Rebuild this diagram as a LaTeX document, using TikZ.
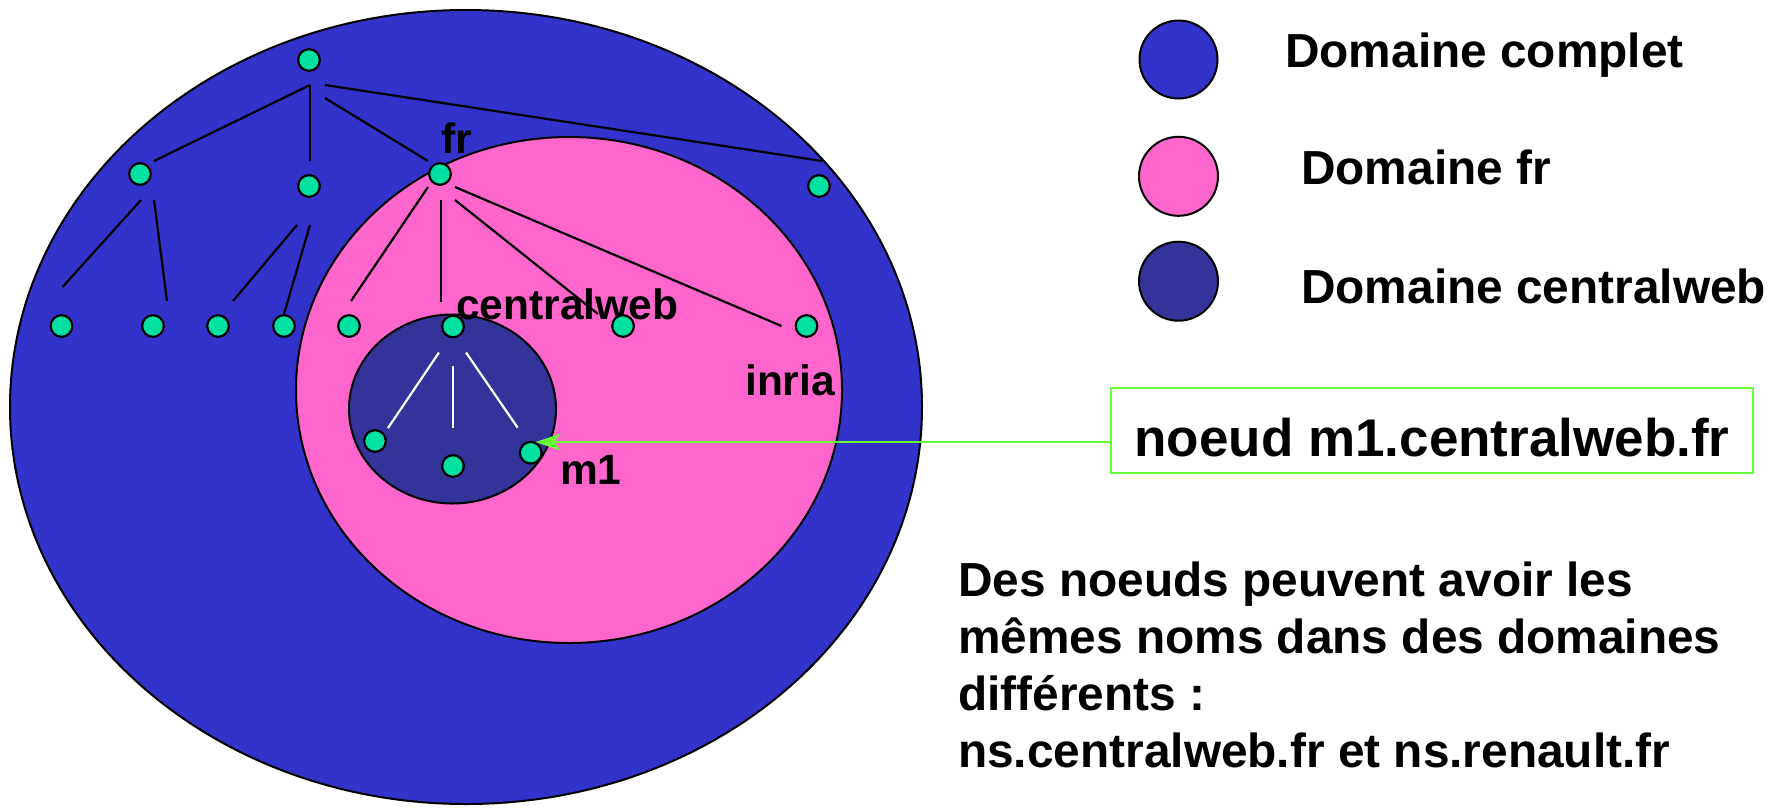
\documentclass[tikz,border=0pt]{standalone}
\usepackage{fontspec}
\setmainfont{Liberation Sans}
\usetikzlibrary{calc,arrows.meta}
\definecolor{fullblue}{HTML}{3333CC}
\definecolor{frpink}{HTML}{FF66CC}
\definecolor{cwblue}{HTML}{333399}
\definecolor{hostgreen}{HTML}{00E0A0}
\definecolor{callgreen}{HTML}{66FF33}
\begin{document}
\begin{tikzpicture}[x=1pt,y=-1pt,
  host/.style={circle,draw=black,line width=2pt,fill=hostgreen,minimum size=21.5pt,inner sep=0pt},
  zone/.style={draw=black,line width=2pt},
  edge/.style={line width=2.2pt,draw=black},
  inedge/.style={line width=2.2pt,draw=white},
  lbl/.style={font=\fontsize{42.5}{50}\selectfont\bfseries,inner sep=0pt,anchor=base west},
  legendtxt/.style={font=\fontsize{47.8}{57}\selectfont\bfseries,inner sep=0pt,anchor=base west},
  callout/.style={draw=callgreen,line width=2pt,-{Stealth[length=25pt,width=17pt,inset=7pt]}}
]
\useasboundingbox (0,0) rectangle (1782,807);

% nested domains
\draw[zone,fill=fullblue] (466,407) ellipse [x radius=456, y radius=397];
\draw[zone,fill=frpink] (569,390) ellipse [x radius=273, y radius=253];
\draw[zone,fill=cwblue] (452.5,409) ellipse [x radius=103.5, y radius=94.5];

% domain labels
\node[lbl] (lfr) at (441,153) {fr};
\node[lbl] (lcw) at (456,319) {centralweb};
\node[lbl] (linria) at (745,395) {inria};
\node[lbl] (lm1) at (560,484) {m1};

% tree nodes
\node[host] (root) at (309,60) {};
\node[host] (a) at (140,174) {};
\node[host] (b) at (309,186) {};
\node[host] (fr) at (440,174) {};
\node[host] (d) at (819,186) {};
\node[host] (a1) at (61.5,326) {};
\node[host] (a2) at (153,326) {};
\node[host] (b1) at (218,326) {};
\node[host] (b2) at (284,326) {};
\node[host] (f1) at (349,326) {};
\node[host] (cw) at (453,326.5) {};
\node[host] (f3) at (623,326) {};
\node[host] (inria) at (806.5,326) {};
\node[host] (m0) at (375,441) {};
\node[host] (m2) at (453,466) {};
\node[host] (m1) at (530.7,452.7) {};

% tree edges
\draw[edge] ($(root)+(1,25)$) -- ($(a)+(14,-13)$);
\draw[edge] ($(root)+(1,25)$) -- ($(b)+(1,-25)$);
\draw[edge] ($(root)+(16,38)$) -- ($(fr)+(-12,-13)$);
\draw[edge] ($(root)+(16,25)$) -- ($(d)+(3,-25)$);
\draw[edge] ($(a)+(1,26)$) -- ($(a1)+(1,-39)$);
\draw[edge] ($(a)+(14,26)$) -- ($(a2)+(14,-25)$);
\draw[edge] ($(b)+(-12,39)$) -- ($(b1)+(15,-25)$);
\draw[edge] ($(b)+(1,39)$) -- ($(b2)+(0,-12)$);
\draw[edge] ($(fr)+(-12,13)$) -- ($(f1)+(2,-25)$);
\draw[edge] ($(fr)+(1,26)$) -- ($(cw)+(-12,-25)$);
\draw[edge] ($(fr)+(15,26)$) -- ($(f3)+(-25,-12)$);
\draw[edge] ($(fr)+(15,13)$) -- ($(inria)+(-25,0)$);
\draw[inedge] ($(cw)+(-14,26)$) -- ($(m0)+(13,-13)$);
\draw[inedge] ($(cw)+(0,39)$) -- ($(m2)+(0,-38)$);
\draw[inedge] ($(cw)+(13,26)$) -- ($(m1)+(-13,-25)$);

% redraw hosts above the edges
\foreach \h in {root,a,b,fr,d,a1,a2,b1,b2,f1,cw,f3,inria,m0,m2,m1}
  \node[host] at (\h) {};

% legend
\draw[zone,fill=fullblue] (1178.5,59.5) circle [radius=39];
\draw[zone,fill=frpink] (1178.5,176.3) circle [radius=39.5];
\draw[zone,fill=cwblue] (1178.5,281.2) circle [radius=39.5];
\node[legendtxt] (t1) at (1285,67) {Domaine complet};
\node[legendtxt] (t2) at (1301,184) {Domaine fr};
\node[legendtxt] (t3) at (1301,303) {Domaine centralweb};

% callout
\node[draw=callgreen,line width=2pt,minimum width=642pt,inner xsep=0pt,inner ysep=0pt,
      text height=68pt,text depth=17pt,anchor=base,
      font=\fontsize{53}{60}\selectfont\bfseries] (box) at (1432,456) {noeud m1.centralweb.fr};
\draw[callout] (box.west |- m1.65) -- (m1.65);

% note (base anchor sits on the last line)
\node[legendtxt,align=left] (note) at (958,767)
  {Des noeuds peuvent avoir les\\mêmes noms dans des domaines\\différents :\\ns.centralweb.fr et ns.renault.fr};
\end{tikzpicture}
\end{document}
